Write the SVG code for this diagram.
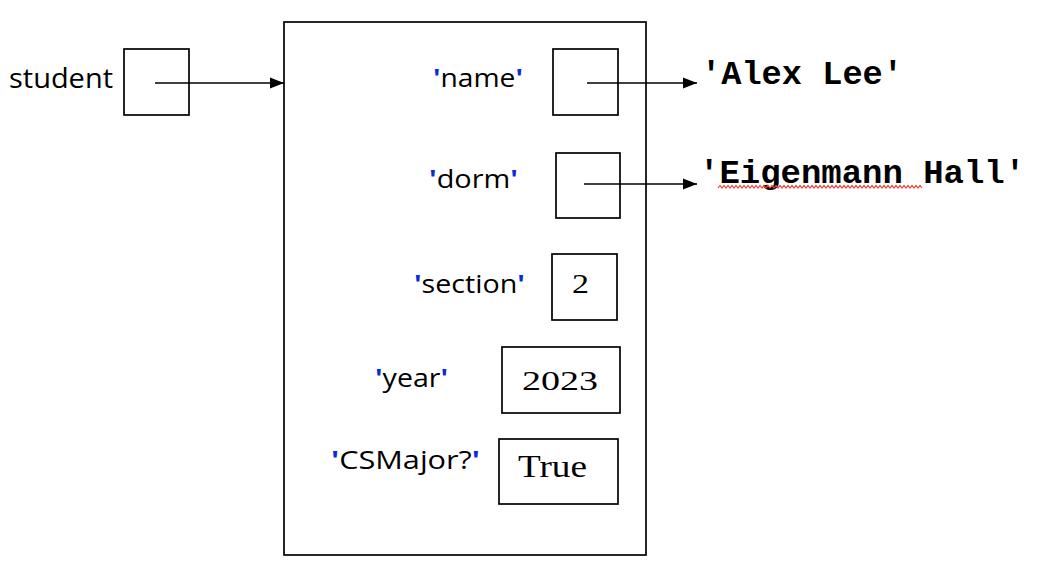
<svg xmlns="http://www.w3.org/2000/svg" width="1050" height="574" viewBox="0 0 1050 574">
<style>
.box{fill:none;stroke:#000;stroke-width:1.7}
.lbl{font-family:"Open Sans","DejaVu Sans",sans-serif;font-size:25px;fill:#000}
.q{fill:#0a2bd6;font-weight:bold}
.val{font-family:"Liberation Serif","DejaVu Serif",serif;font-size:31px;fill:#000}
.str{font-family:"Liberation Mono","Courier New",monospace;font-weight:bold;font-size:34px;fill:#000}
.conn{stroke:#000;stroke-width:1.7;fill:none}
</style>
<defs>
<marker id="ah" markerUnits="userSpaceOnUse" markerWidth="14" markerHeight="12" refX="14" refY="6" orient="auto">
<path d="M0,0.5 L14,6 L0,11.5 Z" fill="#000"/>
</marker>
</defs>
<rect width="1050" height="574" fill="#fff"/>
<g id="student">
<text class="lbl" x="9" y="88" style="font-size:28px" textLength="104" lengthAdjust="spacingAndGlyphs">student</text>
<rect class="box" x="124" y="49" width="65" height="66"/>
</g>
<g id="dict">
<rect class="box" x="284" y="22" width="362" height="533"/>
</g>
<g id="name">
<text class="lbl" x="433" y="87" textLength="90" lengthAdjust="spacingAndGlyphs"><tspan class="q">'</tspan>name<tspan class="q">'</tspan></text>
<rect class="box" x="553" y="49" width="65" height="66"/>
</g>
<g id="dorm">
<text class="lbl" x="429" y="188" textLength="89" lengthAdjust="spacingAndGlyphs"><tspan class="q">'</tspan>dorm<tspan class="q">'</tspan></text>
<rect class="box" x="556" y="153" width="64" height="65"/>
</g>
<g id="section">
<text class="lbl" x="414" y="293" textLength="111" lengthAdjust="spacingAndGlyphs"><tspan class="q">'</tspan>section<tspan class="q">'</tspan></text>
<rect class="box" x="552" y="254" width="65" height="66"/>
<text class="val" x="572" y="293" textLength="17" lengthAdjust="spacingAndGlyphs" style="font-size:28px">2</text>
</g>
<g id="year">
<text class="lbl" x="375" y="387" textLength="73" lengthAdjust="spacingAndGlyphs"><tspan class="q">'</tspan>year<tspan class="q">'</tspan></text>
<rect class="box" x="502" y="347" width="118" height="66"/>
<text class="val" x="522" y="390" textLength="76" lengthAdjust="spacingAndGlyphs" style="font-size:28px">2023</text>
</g>
<g id="csmajor">
<text class="lbl" x="331" y="469" textLength="149" lengthAdjust="spacingAndGlyphs"><tspan class="q">'</tspan>CSMajor?<tspan class="q">'</tspan></text>
<rect class="box" x="499" y="439" width="119" height="65"/>
<text class="val" x="518" y="477" textLength="69" lengthAdjust="spacingAndGlyphs">True</text>
</g>
<g id="alexlee">
<text class="str" x="701" y="84" textLength="202" lengthAdjust="spacingAndGlyphs">'Alex Lee'</text>
</g>
<g id="eigenmann">
<text class="str" x="699" y="183" textLength="326" lengthAdjust="spacingAndGlyphs">'Eigenmann Hall'</text>
<path d="M718,188 l2,-2.5 l2,2.5 l2,-2.5 l2,2.5 l2,-2.5 l2,2.5 l2,-2.5 l2,2.5 l2,-2.5 l2,2.5 l2,-2.5 l2,2.5 l2,-2.5 l2,2.5 l2,-2.5 l2,2.5 l2,-2.5 l2,2.5 l2,-2.5 l2,2.5 l2,-2.5 l2,2.5 l2,-2.5 l2,2.5 l2,-2.5 l2,2.5 l2,-2.5 l2,2.5 l2,-2.5 l2,2.5 l2,-2.5 l2,2.5 l2,-2.5 l2,2.5 l2,-2.5 l2,2.5 l2,-2.5 l2,2.5 l2,-2.5 l2,2.5 l2,-2.5 l2,2.5 l2,-2.5 l2,2.5 l2,-2.5 l2,2.5 l2,-2.5 l2,2.5 l2,-2.5 l2,2.5 l2,-2.5 l2,2.5 l2,-2.5 l2,2.5 l2,-2.5 l2,2.5 l2,-2.5 l2,2.5 l2,-2.5 l2,2.5 l2,-2.5 l2,2.5 l2,-2.5 l2,2.5 l2,-2.5 l2,2.5 l2,-2.5 l2,2.5 l2,-2.5 l2,2.5 l2,-2.5 l2,2.5 l2,-2.5 l2,2.5 l2,-2.5 l2,2.5 l2,-2.5 l2,2.5 l2,-2.5 l2,2.5 l2,-2.5 l2,2.5 l2,-2.5 l2,2.5 l2,-2.5 l2,2.5 l2,-2.5 l2,2.5 l2,-2.5 l2,2.5 l2,-2.5 l2,2.5 l2,-2.5 l2,2.5 l2,-2.5 l2,2.5 l2,-2.5 l2,2.5 l2,-2.5 l2,2.5 l2,-2.5 l2,2.5" fill="none" stroke="#e8433a" stroke-width="1.2"/>
</g>
<g id="connectors">
<line class="conn" x1="155" y1="83" x2="284" y2="83" marker-end="url(#ah)"/>
<line class="conn" x1="587" y1="83" x2="697" y2="83" marker-end="url(#ah)"/>
<line class="conn" x1="584" y1="184" x2="697" y2="184" marker-end="url(#ah)"/>
</g>
</svg>
